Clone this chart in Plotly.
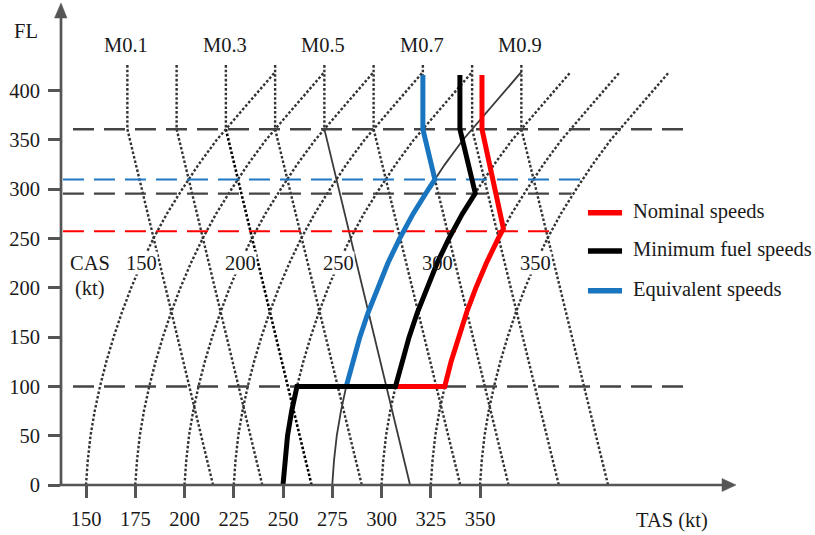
import plotly.graph_objects as go

# ---------------- data ----------------
TROPO_FL = 361          # FL where Mach lines become vertical
MACH_TOP_FL = 426       # top of the Mach lines
CAS_TOP_FL = 419        # top of the CAS lines

MACH_NAMES = ["M0.1", "M0.2", "M0.3", "M0.4", "M0.5", "M0.6", "M0.7", "M0.8", "M0.9"]
MACH_TAS_TROPO = [171, 196, 221, 246, 271, 296, 321, 346, 371]       # TAS at/above FL361
MACH_TAS_FL0 = [214.5, 239.5, 264.5, 290, 314.5, 340, 364.5, 390, 415]  # TAS at FL0
MACH_LABELED = ["M0.1", "M0.3", "M0.5", "M0.7", "M0.9"]

CAS_VALUES = [150, 175, 200, 225, 250, 275, 300, 325, 350]
CAS_LABELED = [150, 200, 250, 300, 350]
# TAS - CAS offset of a constant-CAS line versus FL (same shape for each line)
CAS_PROFILE_FL = [0, 25, 50, 75, 100, 125, 150, 175, 200, 225, 250, 275, 300, 325, 350, 361, 419]
CAS_PROFILE_DTAS = [0, 0.9, 2.3, 4.4, 7.1, 10.3, 14.0, 18.2, 22.9, 28.2, 34.2, 41.0, 48.8, 57.1, 66.3, 71.0, 96.0]

NOMINAL_TAS = [308.0, 332.1, 335.3, 339.0, 343.2, 347.9, 353.2, 359.2, 361.9, 351.0, 351.0]
NOMINAL_FL = [100, 100, 125, 150, 175, 200, 225, 250, 260, 361, 416]

MINFUEL_TAS = [250.0, 250.9, 252.3, 254.4, 257.1, 307.1, 310.3, 314.0, 318.2, 322.9, 328.2, 334.2, 341.0, 347.6, 339.8, 339.8]
MINFUEL_FL = [0, 25, 50, 75, 100, 100, 125, 150, 175, 200, 225, 250, 275, 296, 361, 416]

EQUIV_TAS = [282.1, 285.3, 289.0, 293.2, 297.9, 303.2, 309.2, 316.0, 323.8, 327.1, 321.0, 321.0]
EQUIV_FL = [100, 125, 150, 175, 200, 225, 250, 275, 300, 310, 361, 416]

# reference levels
GRAY_LEVELS_FL = [361, 100]
GRAY_LEVELS_TAS = [143.4, 455.6]
COLOR_LEVELS_FL = [310, 295.5, 257.5]
COLOR_LEVELS_END = [402.4, 396.5, 387.0]
COLOR_LEVELS_START = 138.3
COLOR_LEVELS_COLORS = ["#1f78c1", "#444444", "#ff0000"]

SERIES_NAMES = ["Nominal speeds", "Minimum fuel speeds", "Equivalent speeds"]
SERIES_COLORS = ["#ff0000", "#000000", "#1a75c0"]

FL_TICKS = [0, 50, 100, 150, 200, 250, 300, 350, 400]
TAS_TICKS = [150, 175, 200, 225, 250, 275, 300, 325, 350]

# ---------------- figure ----------------
FONT = "Liberation Serif, Times New Roman, serif"
FS = 20.5
TXT = "#1a1a1a"
DOT_GRAY = "#333333"
DOT = "2.6px,2px"
LONGDASH = "21px,10px"

fig = go.Figure()

def add_line(x, y, color, width, dash="solid"):
    fig.add_trace(go.Scatter(x=x, y=y, mode="lines", showlegend=False, hoverinfo="skip",
                             line=dict(color=color, width=width, dash=dash)))

# Mach lines
for name, top, bot in zip(MACH_NAMES, MACH_TAS_TROPO, MACH_TAS_FL0):
    add_line([top, top], [MACH_TOP_FL, TROPO_FL], DOT_GRAY, 2.4, DOT)
    if name == "M0.3":
        add_line([top, bot], [TROPO_FL, 0], "#000000", 2.6, DOT)
    elif name == "M0.5":
        add_line([top, bot], [TROPO_FL, 0], "#3a3a3a", 1.8)
    else:
        add_line([top, bot], [TROPO_FL, 0], DOT_GRAY, 2.4, DOT)

# CAS lines
for cas in CAS_VALUES:
    xs = [cas + d for d in CAS_PROFILE_DTAS]
    if cas == 275:
        add_line(xs, CAS_PROFILE_FL, "#3a3a3a", 1.8)
    else:
        add_line(xs, CAS_PROFILE_FL, DOT_GRAY, 2.4, DOT)

# reference levels
for fl in GRAY_LEVELS_FL:
    add_line(GRAY_LEVELS_TAS, [fl, fl], "#444444", 2.5, LONGDASH)
for fl, x1, c in zip(COLOR_LEVELS_FL, COLOR_LEVELS_END, COLOR_LEVELS_COLORS):
    add_line([COLOR_LEVELS_START, x1], [fl, fl], c, 2.3 if c == "#444444" else 2, LONGDASH)

# speed schedules
add_line(EQUIV_TAS, EQUIV_FL, SERIES_COLORS[2], 5)
add_line(NOMINAL_TAS, NOMINAL_FL, SERIES_COLORS[0], 5)
add_line(MINFUEL_TAS, MINFUEL_FL, SERIES_COLORS[1], 5)

# manual legend
LEG_X0, LEG_X1, LEG_TX = 404.8, 422.1, 426.5
LEG_FL = [276.2, 237.4, 197.1]
for name, c, fl in zip(SERIES_NAMES, SERIES_COLORS, LEG_FL):
    add_line([LEG_X0, LEG_X1], [fl, fl], c, 5.5)
    fig.add_annotation(x=LEG_TX, y=fl + 1, text=name, showarrow=False, xanchor="left", yanchor="middle",
                       font=dict(family=FONT, size=FS, color=TXT))

ann = []
for name, top in zip(MACH_NAMES, MACH_TAS_TROPO):
    if name in MACH_LABELED:
        ann.append(dict(x=top - 0.5, y=446.3, text=name))
for cas in CAS_LABELED:
    ann.append(dict(x=cas + 28.2, y=225.2, text=str(cas),
                    bgcolor=None if cas == 300 else "white", borderpad=0))
ann.append(dict(x=152.0, y=225.2, text="CAS"))
ann.append(dict(x=152.0, y=199.5, text="(kt)"))
ann.append(dict(xref="paper", yref="paper", x=-0.0464, y=0.936, text="FL"))
ann.append(dict(xref="paper", yref="paper", x=0.81, y=-0.0732, text="TAS (kt)"))
for a in ann:
    fig.add_annotation(showarrow=False, xanchor="center", yanchor="middle",
                       font=dict(family=FONT, size=FS, color=TXT), **a)

AX = "#555555"
shapes = [
    dict(type="line", xref="paper", yref="paper", x0=0, x1=0, y0=-0.002, y1=0.965,
         line=dict(color=AX, width=2.7)),
    dict(type="line", xref="paper", yref="paper", x0=-0.002, x1=0.879, y0=0, y1=0,
         line=dict(color=AX, width=2.7)),
    dict(type="path", xref="paper", yref="paper",
         path="M -0.00862 0.96289 L 0 0.99381 L 0.00796 0.96289 Z",
         fillcolor=AX, line=dict(color=AX, width=0.5)),
    dict(type="path", xref="paper", yref="paper",
         path="M 0.87666 0.0134 L 0.89523 0 L 0.87666 -0.0134 Z",
         fillcolor=AX, line=dict(color=AX, width=0.5)),
]

fig.update_layout(
    width=815, height=535,
    margin=dict(l=61, r=0, t=0, b=50),
    paper_bgcolor="white", plot_bgcolor="white",
    shapes=shapes,
    xaxis=dict(range=[137.31, 520.05], tickvals=TAS_TICKS, ticks="outside", ticklen=12,
               tickwidth=2.5, tickcolor=AX, showgrid=False, zeroline=False, showline=False,
               ticklabelstandoff=3,
               tickfont=dict(family=FONT, size=FS, color=TXT)),
    yaxis=dict(range=[0, 492], tickvals=FL_TICKS, ticks="outside", ticklen=12,
               tickwidth=2.5, tickcolor=AX, showgrid=False, zeroline=False, showline=False,
               ticklabelstandoff=4,
               tickfont=dict(family=FONT, size=FS, color=TXT)),
    showlegend=False,
)

fig.write_html("out.html")
